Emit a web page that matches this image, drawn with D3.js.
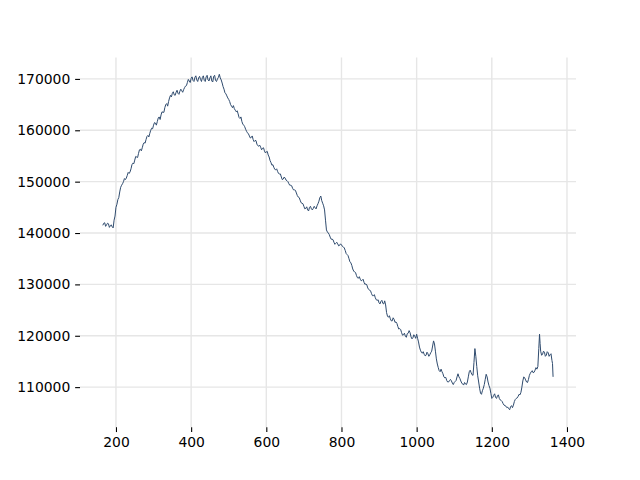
<!DOCTYPE html>
<html>
<head>
<meta charset="utf-8">
<script src="https://cdn.jsdelivr.net/npm/d3@7"></script>
<style>
  html, body { margin: 0; padding: 0; background: #fff; }
  svg { display: block; }
  text { font-family: "DejaVu Sans", sans-serif; }
</style>
</head>
<body>
<div id="chart"></div>
<script>
const xValues = [165,170,175,180,185,190,195,200,205,210,215,220,225,230,235,240,245,250,255,260,265,270,275,280,285,290,295,300,305,310,315,320,325,330,335,340,345,350,355,360,365,370,375,380,385,390,395,400,405,410,415,420,425,430,435,440,445,450,455,460,465,470,475,480,485,490,495,500,505,510,515,520,525,530,535,540,545,550,555,560,565,570,575,580,585,590,595,600,605,610,615,620,625,630,635,640,645,650,655,660,665,670,675,680,685,690,695,700,705,710,715,720,725,730,735,740,745,750,755,760,765,770,775,780,785,790,795,800,805,810,815,820,825,830,835,840,845,850,855,860,865,870,875,880,885,890,895,900,905,910,915,920,925,930,935,940,945,950,955,960,965,970,975,980,985,990,995,1000,1005,1010,1015,1020,1025,1030,1035,1040,1045,1050,1055,1060,1065,1070,1075,1080,1085,1090,1095,1100,1105,1110,1115,1120,1125,1130,1135,1140,1145,1150,1155,1160,1165,1170,1175,1180,1185,1190,1195,1200,1205,1210,1215,1220,1225,1230,1235,1240,1245,1250,1255,1260,1265,1270,1275,1280,1285,1290,1295,1300,1305,1310,1315,1320,1325,1327,1330,1335,1340,1345,1350,1355,1360,1363];
const yValues = [141500,142000,141600,141800,141400,141200,142500,145000,146500,148000,149300,150000,150400,151200,151600,152500,153600,154200,154800,155500,156300,156600,157600,158200,159000,159400,160400,161000,161400,161700,162600,163000,163500,164400,165200,165600,166800,167200,166900,167400,167200,167600,167700,167900,168600,169300,169600,170100,169700,170300,169800,170200,169900,170300,169700,170400,169800,170200,169600,170500,169700,170000,170900,169800,168500,167300,166700,166000,165000,164400,164200,163600,163200,162300,161700,161000,160200,159500,158900,158600,158200,158000,157300,156900,156700,156500,156000,155800,155200,154100,153200,152800,152300,152000,151500,150900,150500,150700,150200,149600,149300,148700,148400,147800,147000,146400,145800,145200,144800,144500,145000,144700,144800,144900,145300,146200,147200,145800,144500,140600,140000,139200,138800,138200,138000,137900,137600,137700,137300,136600,135800,135000,134200,133000,132400,131700,131200,131000,130800,130400,130100,129300,128900,128200,127800,127400,126900,126400,126700,126300,126800,124500,123600,123300,122900,123200,122700,121800,121400,120600,120200,119900,120400,121000,119800,119600,119900,120300,118800,117200,116600,116400,116200,116500,116300,117000,119000,117000,114500,113200,113500,112600,111800,111300,111000,111500,110800,110900,111300,112600,111700,110800,110400,110600,111000,113000,112800,112300,117500,114000,111000,108800,109300,110500,112500,111000,109800,107800,108400,108000,108300,107800,107400,106800,106400,106000,105800,106200,106000,107200,107800,108200,108500,110000,112000,111400,110900,112300,113000,112800,113300,113500,117500,120300,117000,116400,116800,116200,116700,116300,115200,112000];
const xMid = [167.5,172.5,177.5,182.5,187.5,192.5,197.5,202.5,207.5,212.5,217.5,222.5,227.5,232.5,237.5,242.5,247.5,252.5,257.5,262.5,267.5,272.5,277.5,282.5,287.5,292.5,297.5,302.5,307.5,312.5,317.5,322.5,327.5,332.5,337.5,342.5,347.5,352.5,357.5,362.5,367.5,372.5,377.5,382.5,387.5,392.5,397.5,402.5,407.5,412.5,417.5,422.5,427.5,432.5,437.5,442.5,447.5,452.5,457.5,462.5,467.5,472.5,477.5,482.5,487.5,492.5,497.5,502.5,507.5,512.5,517.5,522.5,527.5,532.5,537.5,542.5,547.5,552.5,557.5,562.5,567.5,572.5,577.5,582.5,587.5,592.5,597.5,602.5,607.5,612.5,617.5,622.5,627.5,632.5,637.5,642.5,647.5,652.5,657.5,662.5,667.5,672.5,677.5,682.5,687.5,692.5,697.5,702.5,707.5,712.5,717.5,722.5,727.5,732.5,737.5,742.5,747.5,752.5,757.5,762.5,767.5,772.5,777.5,782.5,787.5,792.5,797.5,802.5,807.5,812.5,817.5,822.5,827.5,832.5,837.5,842.5,847.5,852.5,857.5,862.5,867.5,872.5,877.5,882.5,887.5,892.5,897.5,902.5,907.5,912.5,917.5,922.5,927.5,932.5,937.5,942.5,947.5,952.5,957.5,962.5,967.5,972.5,977.5,982.5,987.5,992.5,997.5,1002.5,1007.5,1012.5,1017.5,1022.5,1027.5,1032.5,1037.5,1042.5,1047.5,1052.5,1057.5,1062.5,1067.5,1072.5,1077.5,1082.5,1087.5,1092.5,1097.5,1102.5,1107.5,1112.5,1117.5,1122.5,1127.5,1132.5,1137.5,1142.5,1147.5,1152.5,1157.5,1162.5,1167.5,1172.5,1177.5,1182.5,1187.5,1192.5,1197.5,1202.5,1207.5,1212.5,1217.5,1222.5,1227.5,1232.5,1237.5,1242.5,1247.5,1252.5,1257.5,1262.5,1267.5,1272.5,1277.5,1282.5,1287.5,1292.5,1297.5,1302.5,1307.5,1312.5,1317.5,1322.5,1328.5,1332.5,1337.5,1342.5,1347.5,1352.5,1357.5,1361.5];
const yMid = [141900,141300,141900,141100,141600,141000,143300,145600,146900,148900,149600,150600,150700,151800,151900,153300,153500,154900,154700,156200,156000,157300,157500,158800,158700,160000,160300,161500,161000,162400,162100,163600,163500,165000,164700,166300,166500,167500,166800,167800,167000,168000,167400,168300,168700,169900,169300,170400,169500,170600,169500,170500,169500,170600,169500,170700,169600,170600,169400,170700,169500,170300,170200,169200,168000,167100,166300,165600,164700,164800,163900,163800,162500,162600,161200,160700,159800,159300,158500,158900,157800,158000,157000,157100,156200,156600,155600,155900,154800,153700,153300,152400,152500,151600,151500,150400,150900,150300,150000,149300,149200,148400,148300,147300,146900,145900,145700,144700,145100,144300,145200,144500,145200,144700,145700,146900,146300,145300,142500,140200,139700,138800,138700,137800,138200,137500,137900,137400,137100,136000,135600,134400,133700,132600,132300,131300,131500,130700,131000,130000,129900,129000,128700,127800,128000,127000,127000,126200,126900,126200,126000,123800,123900,122900,123500,122600,122400,121300,121200,120100,120500,119700,120500,120600,119400,120200,119500,119500,117800,116800,116900,116100,116800,116000,116700,118000,118400,115500,113800,113000,113000,112000,111900,111000,111300,111200,110500,111100,112000,112000,111200,110600,110900,110500,112000,113300,112400,114800,116000,112200,109800,108600,109800,111500,112000,110300,108800,108000,108700,107800,108500,107500,107200,106500,106300,106100,105600,106400,106500,107600,107900,108600,109000,111200,111800,111000,111500,112700,113200,112900,113800,114000,118500,116200,117000,116000,116900,116000,116500,114600];
const xTicks = [200,400,600,800,1000,1200,1400];
const yTicks = [110000,120000,130000,140000,150000,160000,170000];
const xDomain = [104.3, 1424];
const yDomain = [102200, 174150];

const W = 640, H = 480;
const m = {left: 80, right: 576, top: 57.6, bottom: 427.2};
const data = xValues.map((x, i) => ({x, y: yValues[i]}))
  .concat(xMid.map((x, i) => ({x, y: yMid[i]})))
  .sort((a, b) => a.x - b.x);

const svg = d3.select("#chart").append("svg").attr("width", W).attr("height", H);
const x = d3.scaleLinear().domain(xDomain).range([m.left, m.right]);
const y = d3.scaleLinear().domain(yDomain).range([m.bottom, m.top]);

// grid
svg.append("g").selectAll("line").data(xTicks).join("line")
  .attr("x1", d => x(d)).attr("x2", d => x(d)).attr("y1", m.top).attr("y2", m.bottom)
  .attr("stroke", "#e6e6e6").attr("stroke-width", 1.4);
svg.append("g").selectAll("line").data(yTicks).join("line")
  .attr("y1", d => y(d)).attr("y2", d => y(d)).attr("x1", m.left).attr("x2", m.right)
  .attr("stroke", "#e6e6e6").attr("stroke-width", 1.4);

// axes
const xAxis = d3.axisBottom(x).tickValues(xTicks).tickSize(4.86).tickPadding(4.86).tickFormat(d3.format("d"));
const yAxis = d3.axisLeft(y).tickValues(yTicks).tickSize(4.86).tickPadding(4.86).tickFormat(d3.format("d"));
const gx = svg.append("g").attr("transform", `translate(0,${m.bottom})`).call(xAxis);
const gy = svg.append("g").attr("transform", `translate(${m.left},0)`).call(yAxis);
[gx, gy].forEach(g => {
  g.select(".domain").remove();
  g.selectAll(".tick line").attr("stroke", "#000").attr("stroke-width", 1.1);
  g.selectAll(".tick text").attr("fill", "#000").style("font-size", "13.9px").style("font-family", "DejaVu Sans, sans-serif");
});

// line
svg.append("path").datum(data)
  .attr("fill", "none").attr("stroke", "#2f4b6e").attr("stroke-width", 1)
  .attr("stroke-linejoin", "round")
  .attr("d", d3.line().x(d => x(d.x)).y(d => y(d.y)));
</script>
</body>
</html>
